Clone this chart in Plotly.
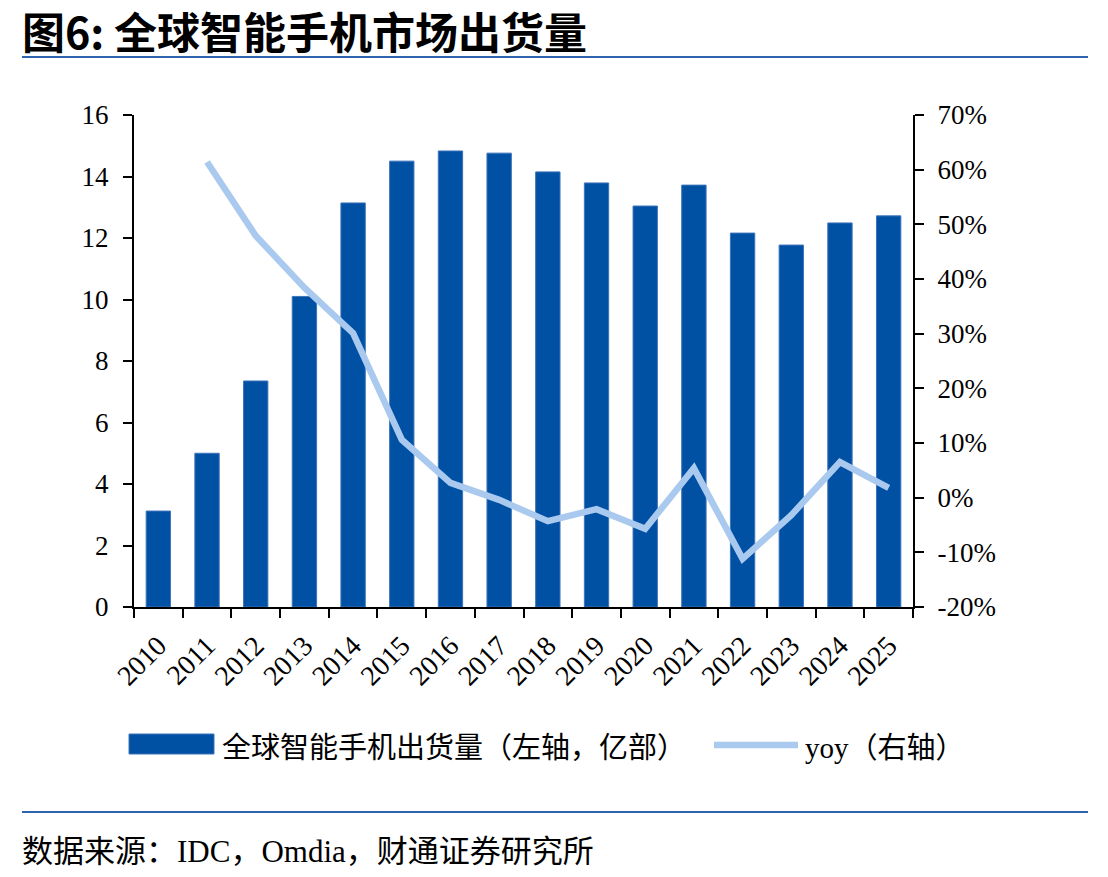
import plotly.graph_objects as go

years = ["2010", "2011", "2012", "2013", "2014", "2015", "2016", "2017",
         "2018", "2019", "2020", "2021", "2022", "2023", "2024", "2025"]
shipments = [3.12, 5.00, 7.35, 10.10, 13.14, 14.50, 14.83, 14.76,
             14.15, 13.79, 13.04, 13.72, 12.16, 11.77, 12.49, 12.72]
yoy = [None, 61.4, 47.9, 38.4, 30.1, 10.6, 2.7, -0.4,
       -4.3, -2.1, -5.7, 5.4, -11.2, -3.2, 6.5, 1.8]
left_ticks = [0, 2, 4, 6, 8, 10, 12, 14, 16]
right_ticks = [-20, -10, 0, 10, 20, 30, 40, 50, 60, 70]

BAR = "#0050A3"
LINE = "#A9C9EF"
SERIF = "Liberation Serif, Times New Roman, serif"
CJK = "Noto Sans CJK SC"

W, H = 1108, 877
def px(x): return x / W
def py(y): return 1 - y / H

fig = go.Figure()
fig.add_trace(go.Bar(x=years, y=shipments, marker=dict(color=BAR, line=dict(color="#3D74BA", width=1)),
                     width=0.5, name="全球智能手机出货量（左轴，亿部）", showlegend=False))
fig.add_trace(go.Scatter(x=years, y=yoy, yaxis="y2", mode="lines",
                         line=dict(color=LINE, width=6.5), name="yoy（右轴）", showlegend=False))

tickfont = dict(family=SERIF, size=27, color="black")
fig.update_layout(
    width=W, height=H, margin=dict(l=0, r=0, t=0, b=0),
    paper_bgcolor="white", plot_bgcolor="white",
    xaxis=dict(domain=[px(134), px(913)], showline=True, linecolor="black", linewidth=2,
               ticks="outside", ticklen=9, tickcolor="black", tickwidth=2,
               tickson="boundaries", tickangle=-45, automargin=False, ticklabelstandoff=9,
               tickfont=dict(family=SERIF, size=28, color="black"), anchor="y"),
    yaxis=dict(domain=[py(607), py(115)], range=[0, 16], tickvals=left_ticks,
               showline=True, linecolor="black", linewidth=2, ticks="outside", ticklen=9,
               tickcolor="black", tickwidth=2, showgrid=False, zeroline=False, automargin=False,
               ticklabelstandoff=9, tickfont=tickfont),
    yaxis2=dict(overlaying="y", side="right", range=[-20, 70], tickvals=right_ticks,
                ticktext=[f"{v}%" for v in right_ticks], anchor="x", automargin=False,
                showline=True, linecolor="black", linewidth=2, ticks="outside", ticklen=9,
                tickcolor="black", tickwidth=2, showgrid=False, zeroline=False,
                ticklabelstandoff=8, tickfont=tickfont),
)

shapes = [
    dict(type="line", xref="paper", yref="paper", x0=px(22), x1=px(1088), y0=py(57), y1=py(57),
         line=dict(color="#2E64B0", width=2)),
    dict(type="line", xref="paper", yref="paper", x0=px(22), x1=px(1088), y0=py(812), y1=py(812),
         line=dict(color="#2E64B0", width=2)),
    dict(type="rect", xref="paper", yref="paper", x0=px(129), x1=px(214), y0=py(754), y1=py(734),
         fillcolor=BAR, line=dict(color="#3D74BA", width=1)),
    dict(type="line", xref="paper", yref="paper", x0=px(714), x1=px(798), y0=py(745), y1=py(745),
         line=dict(color=LINE, width=6.5)),
]
annotations = [
    dict(text="<b>图6: 全球智能手机市场出货量</b>", x=px(20), y=py(30), xref="paper", yref="paper",
         xanchor="left", yanchor="middle", showarrow=False,
         font=dict(family=CJK, size=43, color="black")),
    dict(text="全球智能手机出货量（左轴，亿部）", x=px(220), y=py(745), xref="paper", yref="paper",
         xanchor="left", yanchor="middle", showarrow=False,
         font=dict(family=CJK, size=29, color="black")),
    dict(text="<span style='font-family:Liberation Serif'>yoy</span>（右轴）", x=px(803), y=py(745),
         xref="paper", yref="paper", xanchor="left", yanchor="middle", showarrow=False,
         font=dict(family=CJK, size=29, color="black")),
    dict(text="数据来源：<span style='font-family:Liberation Serif'>IDC</span>，<span style='font-family:Liberation Serif'>Omdia</span>，财通证券研究所",
         x=px(20), y=py(848), xref="paper", yref="paper", xanchor="left", yanchor="middle",
         showarrow=False, font=dict(family=CJK, size=31, color="black")),
]
fig.update_layout(shapes=shapes, annotations=annotations)
fig.write_html("out.html")
